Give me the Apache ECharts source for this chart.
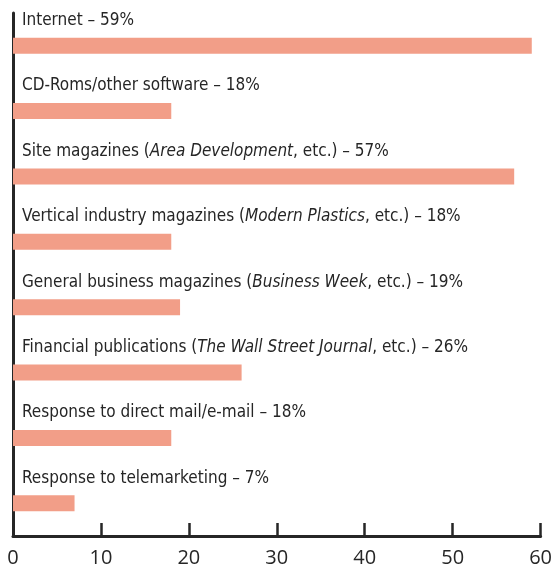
<!DOCTYPE html>
<html>
<head>
<meta charset="utf-8">
<script src="https://cdn.jsdelivr.net/npm/echarts@6/dist/echarts.min.js"></script>
<style>
  html, body { margin: 0; padding: 0; background: #fff; }
  #chart { width: 555px; height: 569px; }
</style>
</head>
<body>
<div id="chart"></div>
<script>
// Sources used (share of respondents). {i|...} marks italic titles.
const categories = [
  'Internet',
  'CD-Roms/other software',
  'Site magazines ({i|Area Development}, etc.)',
  'Vertical industry magazines ({i|Modern Plastics}, etc.)',
  'General business magazines ({i|Business Week}, etc.)',
  'Financial publications ({i|The Wall Street Journal}, etc.)',
  'Response to direct mail/e-mail',
  'Response to telemarketing'
];
const values = [59, 18, 57, 18, 19, 26, 18, 7];
const xTicks = [0, 10, 20, 30, 40, 50, 60];

const ink = '#262626';
const textFont = '"DejaVu Sans Condensed", "Liberation Sans Narrow", "Noto Sans", sans-serif';

const chart = echarts.init(document.getElementById('chart'), null, { renderer: 'canvas' });

chart.setOption({
  animation: false,
  backgroundColor: '#ffffff',
  grid: { left: 13, right: 12, top: 13, bottom: 33, containLabel: false },
  xAxis: {
    type: 'value',
    min: xTicks[0],
    max: xTicks[xTicks.length - 1],
    interval: 10,
    axisLine: { show: true, lineStyle: { color: ink, width: 3 } },
    axisTick: { show: true, inside: true, length: 13, lineStyle: { color: ink, width: 2.5 } },
    axisLabel: {
      show: true, color: ink, fontSize: 20, margin: 12,
      fontFamily: '"Open Sans", "Noto Sans", sans-serif'
    },
    splitLine: { show: false }
  },
  yAxis: {
    type: 'category',
    inverse: true,
    data: categories,
    axisLine: { show: true, lineStyle: { color: ink, width: 3 } },
    axisTick: { show: false },
    axisLabel: { show: false },
    splitLine: { show: false }
  },
  series: [{
    type: 'bar',
    data: values,
    barWidth: 16,
    itemStyle: { color: '#F29E88' },
    label: {
      show: true,
      position: [9, -17],
      verticalAlign: 'middle',
      align: 'left',
      color: ink,
      fontSize: 17,
      fontFamily: textFont,
      formatter: p => categories[p.dataIndex] + ' \u2013 ' + values[p.dataIndex] + '%',
      rich: {
        i: { fontStyle: 'italic', fontSize: 17, color: ink, fontFamily: textFont }
      }
    }
  }]
});
</script>
</body>
</html>
